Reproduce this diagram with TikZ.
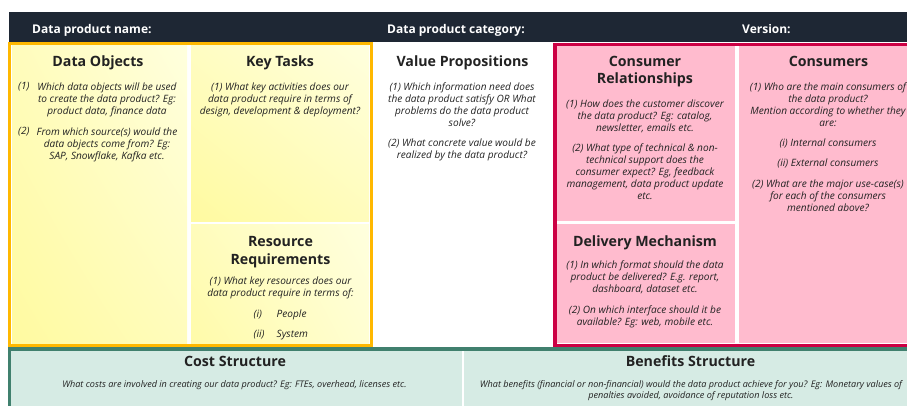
\documentclass[tikz,border=0pt]{standalone}
\usepackage{fontspec}
\setmainfont{Open Sans}
\usepackage{tikz}
\usetikzlibrary{shadings}
\usepackage{xcolor}
\definecolor{headink}{RGB}{30,39,52}
\definecolor{amber}{RGB}{255,184,0}
\definecolor{paleyel}{RGB}{255,255,222}
\definecolor{deepyel}{RGB}{255,250,160}
\definecolor{crimson}{RGB}{204,0,68}
\definecolor{blush}{RGB}{255,187,206}
\definecolor{seagreen}{RGB}{64,128,110}
\definecolor{mint}{RGB}{214,235,228}
\definecolor{ink}{RGB}{34,34,34}

\begin{document}
\begin{tikzpicture}[x=1pt,y=-1pt,line join=miter,
  head/.style={anchor=base west,inner sep=0,text=white,font=\bfseries\fontsize{12}{14}\selectfont},
  title/.style={anchor=base,inner sep=0,align=center,text=ink,font=\bfseries\fontsize{14.2}{17.4}\selectfont},
  body/.style={anchor=north,inner sep=0,align=center,text=ink,font=\itshape\fontsize{10.1}{12}\selectfont},
  tag/.style={anchor=base west,inner sep=0,text=ink,font=\itshape\fontsize{10.1}{12}\selectfont},
  small/.style={body,font=\itshape\fontsize{9.1}{10.6}\selectfont}]
  % canvas 907 x 406, y runs downward
  \useasboundingbox (0,0) rectangle (907,406);
  \fill[headink] (9,12) rectangle (912,42);
  % yellow block: data objects, key tasks, resources
  \shade[lower left=deepyel,upper right=paleyel,upper left=paleyel!45!deepyel,lower right=paleyel!45!deepyel] (12,45) rectangle (187,343);
  \shade[lower left=deepyel,upper right=paleyel,upper left=paleyel!55!deepyel,lower right=paleyel!45!deepyel] (191,45) rectangle (369,221);
  \shade[lower left=deepyel!85!paleyel,upper right=paleyel,upper left=paleyel!45!deepyel,lower right=paleyel!80!deepyel] (191,224) rectangle (369,343);
  \draw[amber,line width=3] (9.5,43.5) rectangle (371.5,345.5);
  % pink block: relationships, delivery, consumers
  \fill[blush] (557,46) rectangle (735,221);
  \fill[blush] (557,224) rectangle (735,343);
  \fill[blush] (739,46) rectangle (912,343);
  \draw[crimson,line width=3.5] (555,44.5) rectangle (915,345.3);
  % cost and benefit band
  \fill[mint] (9,347) rectangle (912,410);
  \draw[seagreen,line width=3.5] (915,349) -- (9.5,349) -- (9.5,410);
  \draw[white,line width=2] (463,351) -- (463,410);

  \node[head] (pname) at (32,34) {Data product name:};
  \node[head] (pcat) at (387,34) {Data product category:};
  \node[head] (pver) at (742,34) {Version:};

  \node[title] (dobj) at (98,67) {Data Objects};
  \node[tag] (dobj1n) at (18,90) {(1)};
  \node[body] (dobj1) at (107,82.3) {Which data objects will be used\\to create the data product? Eg:\\product data, finance data};
  \node[tag] (dobj2n) at (18,135) {(2)};
  \node[body] (dobj2) at (107,127.3) {From which source(s) would the\\data objects come from? Eg:\\SAP, Snowflake, Kafka etc.};

  \node[title] (ktask) at (280,67) {Key Tasks};
  \node[body] (ktask1) at (280,82.3) {(1) What key activities does our\\data product require in terms of\\design, development \& deployment?};

  \node[title] (rreq) at (280.5,264) {Resource\\Requirements};
  \node[body] (rreq1) at (280.5,276.3) {(1) What key resources does our\\data product require in terms of:};
  \foreach \n/\w/\y in {i/People/317,ii/System/337.5}{
    \node[tag] (rreq\n) at (253.5,\y) {(\n)};
    \node[tag] (rreq\w) at (276.5,\y) {\w};
  }

  \node[title] (vprop) at (462.5,67) {Value Propositions};
  \node[body] (vprop1) at (462,82.3) {(1) Which information need does\\the data product satisfy OR What\\problems do the data product\\solve?};
  \node[body] (vprop2) at (462,138.3) {(2) What concrete value would be\\realized by the data product?};

  \node[title] (crel) at (645,84) {Consumer\\Relationships};
  \node[body] (crel1) at (645,99.3) {(1) How does the customer discover\\the data product? Eg: catalog,\\newsletter, emails etc.};
  \node[body] (crel2) at (645,143.3) {(2) What type of technical \& non-\\technical support does the\\consumer expect? Eg, feedback\\management, data product update\\etc.};

  \node[title] (dmech) at (645,246) {Delivery Mechanism};
  \node[body] (dmech1) at (645,260.6) {(1) In which format should the data\\product be delivered? E.g. report,\\dashboard, dataset etc.};
  \node[body] (dmech2) at (645,305.3) {(2) On which interface should it be\\available? Eg: web, mobile etc.};

  \node[title] (cons) at (828.5,67) {Consumers};
  \node[body] (cons1) at (828,82.3) {(1) Who are the main consumers of\\the data product?\\Mention according to whether they\\are:};
  \node[body] (cons2) at (828,138.3) {(i) Internal consumers};
  \node[body] (cons3) at (828,158.8) {(ii) External consumers};
  \node[body] (cons4) at (828,179.3) {(2) What are the major use-case(s)\\for each of the consumers\\mentioned above?};

  \node[title] (cost) at (235,366.5) {Cost Structure};
  \node[small] (cost1) at (234.5,380.5) {What costs are involved in creating our data product? Eg: FTEs, overhead, licenses etc.};
  \node[title] (bene) at (690.5,366.5) {Benefits Structure};
  \node[small] (bene1) at (691,380.5) {What benefits (financial or non-financial) would the data product achieve for you? Eg: Monetary values of\\penalties avoided, avoidance of reputation loss etc.};
\end{tikzpicture}
\end{document}
